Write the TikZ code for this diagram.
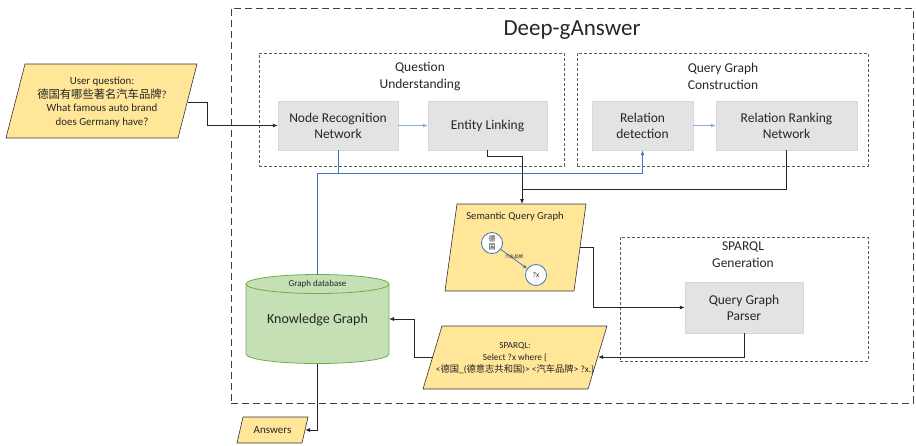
\documentclass[tikz,border=0pt]{standalone}
\usepackage{fontspec}
\setmainfont{Carlito}
\newfontfamily\cjk{Noto Sans CJK SC}
\usetikzlibrary{arrows.meta}
\definecolor{paraY}{HTML}{FFE699}
\definecolor{boxG}{HTML}{E3E3E3}
\definecolor{kgF}{HTML}{C5E0B4}
\definecolor{kgB}{HTML}{70AD47}
\definecolor{blueD}{HTML}{4472C4}
\definecolor{blueL}{HTML}{8FAADC}
\definecolor{txt}{HTML}{262626}
\begin{document}
\begin{tikzpicture}[x=1pt,y=-1pt,
  every node/.style={text=txt},
  proc/.style={fill=boxG, draw=boxG!95!black, line width=0.4pt, minimum height=49pt, align=center, inner sep=0pt,
    font=\fontsize{13.5}{16}\selectfont},
  grp/.style={draw=black!65, dash pattern=on 3pt off 2pt, line width=0.7pt, inner sep=0pt, outer sep=0pt},
  outerbox/.style={draw=black!75, dash pattern=on 7pt off 4pt, line width=1pt, inner sep=0pt, outer sep=0pt},
  grptitle/.style={align=center, font=\fontsize{13.5}{17}\selectfont, inner sep=0pt},
  para/.style={draw=black!80, fill=paraY, line width=0.6pt},
  tip/.style={-{Latex[length=5pt,width=4pt]}},
  con/.style={draw=txt, line width=0.8pt, tip},
  blk/.style={draw=txt, line width=0.8pt},
  bline/.style={draw=blueD, line width=0.9pt},
  blight/.style={draw=blueL, line width=0.9pt, tip},
  circ/.style={circle, draw=blueD, fill=white, line width=0.8pt, minimum size=21pt, inner sep=0pt, align=center}
]
\useasboundingbox (0,0) rectangle (916,445);

% containers
\node[outerbox, minimum width=682pt, minimum height=395pt] (outer) at (572,205.5) {};
\node[font=\fontsize{23}{26}\selectfont] (title) at (572,30) {Deep-gAnswer};
\node[grp, minimum width=305pt, minimum height=113pt] (qu) at (411.5,109.5) {};
\node[grptitle] (qut) at (420,76.5) {Question\\Understanding};
\node[grp, minimum width=291pt, minimum height=113pt] (qgc) at (722.5,109.5) {};
\node[grptitle] (qgct) at (723,76.5) {Query Graph\\Construction};
\node[grp, minimum width=248pt, minimum height=124pt] (sg) at (744,299) {};
\node[grptitle] (sgt) at (743,254.5) {SPARQL\\Generation};

% process boxes
\node[proc, minimum width=120pt] (nr) at (338,125.5) {Node Recognition\\Network};
\node[proc, minimum width=119pt] (el) at (487.5,125.5) {Entity Linking};
\node[proc, minimum width=101pt] (rd) at (642.5,125.5) {Relation\\detection};
\node[proc, minimum width=141pt] (rrn) at (786.5,125.5) {Relation Ranking\\Network};
\node[proc, minimum width=118pt, minimum height=51pt] (qgp) at (744,307.5) {Query Graph\\Parser};

% knowledge graph cylinder
\filldraw[fill=kgF, draw=kgB, line width=0.8pt] (246,284) -- (246,354)
  arc[start angle=180, end angle=360, x radius=71.5pt, y radius=9.5pt] -- (389,284)
  arc[start angle=0, end angle=180, x radius=71.5pt, y radius=9.5pt] -- cycle;
\draw[draw=kgB, line width=0.8pt] (246,284) arc[start angle=180, end angle=360, x radius=71.5pt, y radius=9.5pt];
\node[minimum width=143pt, minimum height=89pt, inner sep=0pt, outer sep=0pt] (kg) at (317.5,319) {};
\node[font=\fontsize{14}{16}\selectfont] (kgl) at (317.5,320) {Knowledge Graph};
\node[font=\fontsize{9}{10}\selectfont] (gdb) at (317.5,284) {Graph database};

% user question
\draw[para] (25,64) -- (197,64) -- (178,138) -- (6,138) -- cycle;
\node[align=center, font=\fontsize{10.9}{13.7}\selectfont] (uq) at (102,102)
  {User question:\\{\cjk\fontsize{11.3}{13.7}\selectfont 德国有哪些著名汽车品牌}?\\What famous auto brand\\does Germany have?};
\coordinate (uqR) at (187.5,102);

% semantic query graph
\draw[para] (457,204) -- (586,204) -- (574,291) -- (445,291) -- cycle;
\node[font=\fontsize{10.6}{12}\selectfont] (sqgt) at (515,217) {Semantic Query Graph};
\coordinate (sqgTop) at (522,204);
\coordinate (sqgR) at (580,247);
\node[circ, font={\cjk\fontsize{7}{8.5}\selectfont}] (c1) at (492,243) {德\\国};
\node[circ, font=\fontsize{7.5}{8}\selectfont] (c2) at (536,275) {?x};
\draw[draw=blueD, line width=0.8pt, -{Latex[length=4pt,width=3.5pt]}] (c1) -- node[font={\cjk\fontsize{4.5}{5}\selectfont}, inner sep=0.5pt, above=-1pt] (rel) {汽车品牌} (c2);

% sparql
\draw[para] (442,326) -- (607,326) -- (588,389) -- (423,389) -- cycle;
\node[align=center, font=\fontsize{9.3}{11.7}\selectfont] (sp) at (515,358)
  {SPARQL:\\Select ?x where \{\\<{\cjk 德国}\_({\cjk 德意志共和国})> <{\cjk 汽车品牌}> ?x.\}};
\coordinate (spR) at (598,357);
\coordinate (spL) at (433,357);

% answers
\draw[para] (243,417) -- (308,417) -- (302,443) -- (237,443) -- cycle;
\node[font=\fontsize{11}{12}\selectfont] (ans) at (272.5,430) {Answers};
\coordinate (ansR) at (305,430);

% blue connectors
\coordinate (bj) at (338,173);
\draw[bline] (nr.south) -- (bj);
\draw[bline] (kg.north) |- (bj);
\draw[bline, tip] (bj) -| (rd.south);
\draw[blight] (nr) -- (el);
\draw[blight] (rd) -- (rrn);

% black connectors
\coordinate (bk) at (522,189);
\draw[con] (uqR) -- (207,102) |- (nr.west);
\draw[con] (el.south) -- ++(0,6) -| (sqgTop);
\draw[blk] (rrn.south) |- (bk);
\draw[con] (sqgR) -- (593,247) |- (qgp.west);
\draw[con] (qgp.south) |- (spR);
\draw[con] (spL) -- (414,357) |- (kg.east);
\draw[con] (kg.south) |- (ansR);
\end{tikzpicture}
\end{document}
